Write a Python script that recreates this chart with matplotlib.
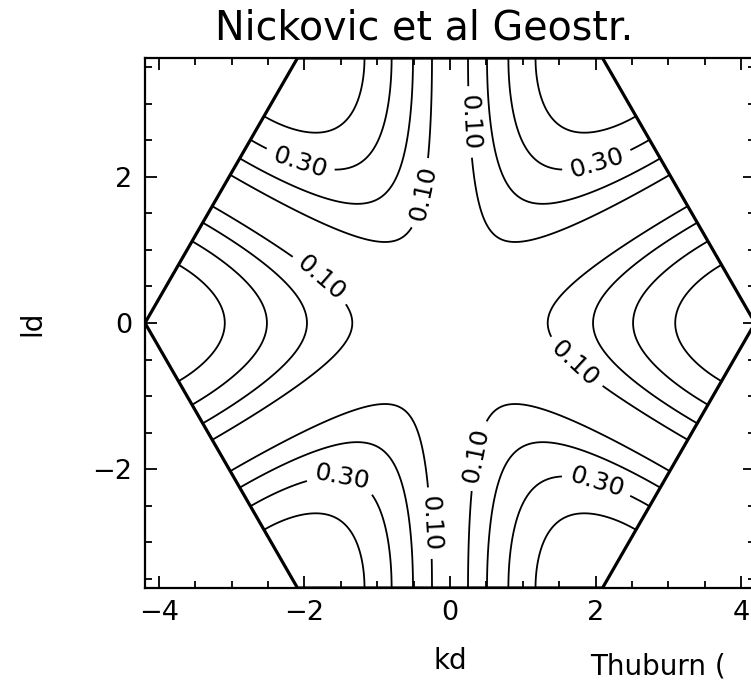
import numpy as np
import matplotlib
matplotlib.use('Agg')
import matplotlib.pyplot as plt
from matplotlib.patches import Polygon
from matplotlib.ticker import MultipleLocator

# contour levels: labelled ones and plain ones
label_levels = [0.10, 0.30]
plain_levels = [0.20, 0.40]
title = 'Nickovic et al Geostr.'
x_ticks = [-4, -2, 0, 2, 4]
y_ticks = [-2, 0, 2]

# where the contour labels sit (kd, ld)
label_spots = [(-2.09, 2.12), (-0.41, 1.78), (-1.76, 0.62), (0.23, 2.75),
               (2.03, 2.16), (-1.48, -2.11), (-0.27, -2.74), (0.34, -1.81),
               (1.69, -0.58), (2.02, -2.18)]

# Brillouin zone of the hexagonal grid (d = 1)
kmax = 4 * np.pi / 3
lmax = 2 * np.pi / np.sqrt(3)
amp = 1.63


def geostr_freq(k, l):
    """frequency of the (spurious) geostrophic mode"""
    edges = [(1.0, 0.0), (-0.5, np.sqrt(3) / 2), (-0.5, -np.sqrt(3) / 2)]
    prod = np.ones_like(k)
    lap = 3.0 * np.ones_like(k)
    for ex, ey in edges:
        phase = k * ex + l * ey
        prod = prod * np.sin(phase / 2)
        lap = lap - np.cos(phase)
    return amp * np.abs(prod) / np.sqrt(np.maximum(lap, 1e-12))


plt.rcParams['font.family'] = ['DejaVu Sans']

fig = plt.figure(figsize=(7.51, 6.82), dpi=100)
# plot box runs a bit past the right edge, like the cropped original
ax = fig.add_axes([145 / 751, 1 - 588 / 682, 610 / 751, 530 / 682])

kk, ll = np.meshgrid(np.linspace(-kmax, kmax, 700), np.linspace(-lmax, lmax, 620))
freq = geostr_freq(kk, ll)

hexv = [(kmax, 0), (kmax / 2, lmax), (-kmax / 2, lmax),
        (-kmax, 0), (-kmax / 2, -lmax), (kmax / 2, -lmax)]

cs_plain = ax.contour(kk, ll, freq, levels=plain_levels, colors='k', linewidths=1.3)
cs = ax.contour(kk, ll, freq, levels=label_levels, colors='k', linewidths=1.3)
ax.clabel(cs, manual=label_spots, fmt='%.2f',
          inline=True, inline_spacing=8, fontsize=18)
for c in (cs_plain, cs):
    c.set_clip_path(Polygon(hexv, closed=True, transform=ax.transData, fill=False))

ax.add_patch(Polygon(hexv, closed=True, fill=False, ec='k', lw=2.3))

ax.set_xlim(-kmax, kmax)
ax.set_ylim(-lmax, lmax)
ax.set_xticks(x_ticks)
ax.set_yticks(y_ticks)
ax.xaxis.set_minor_locator(MultipleLocator(0.5))
ax.yaxis.set_minor_locator(MultipleLocator(0.5))
ax.tick_params(which='both', direction='in', top=True, right=True, width=1.3)
ax.tick_params(which='major', length=8.5, labelsize=19.5, pad=9)
ax.tick_params(which='minor', length=5)
for sp in ax.spines.values():
    sp.set_linewidth(1.6)

ax.set_xlabel('kd', fontsize=20)
ax.set_ylabel('ld', fontsize=20)
ax.xaxis.set_label_coords(0.5, -0.112)
ax.yaxis.set_label_coords(-0.162, 0.5)

fig.text(424 / 751, 1 - 29 / 682, title, fontsize=28.5, ha='center', va='center')
fig.text(590 / 751, 1 - 680 / 682, 'Thuburn (', fontsize=20, ha='left', va='bottom')

fig.savefig('out.png', dpi=100)
